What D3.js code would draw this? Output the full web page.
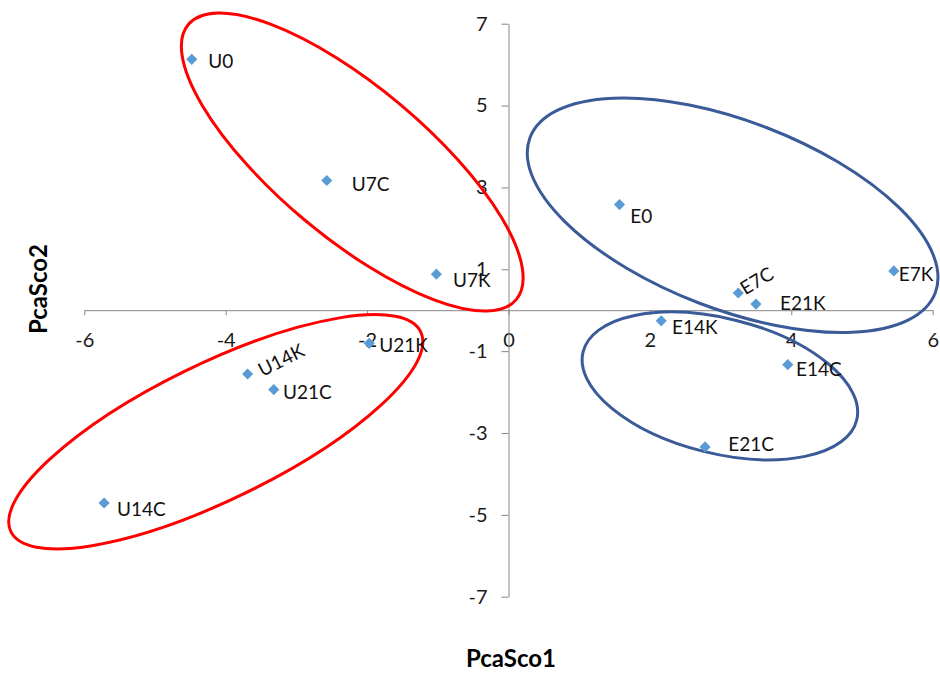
<!DOCTYPE html>
<html>
<head>
<meta charset="utf-8">
<script src="https://cdn.jsdelivr.net/npm/d3@7/dist/d3.min.js"></script>
<style>
  html, body { margin: 0; padding: 0; background: #fff; }
  svg { display: block; font-family: Lato, "Open Sans", sans-serif; }
</style>
</head>
<body>
<svg id="chart" width="940" height="674"></svg>
<script>
// Sample names and their scores on the first two principal components
const sampleNames = ["U0", "U7C", "U7K", "U14K", "U14C", "U21K", "U21C",
                     "E0", "E7C", "E7K", "E14K", "E14C", "E21K", "E21C"];
const pcaSco1 = [-4.48, -2.57, -1.02, -3.69, -5.72, -1.97, -3.32,
                  1.57,  3.25,  5.45,  2.16,  3.95,  3.50,  2.78];
const pcaSco2 = [ 6.13,  3.17,  0.88, -1.56, -4.71, -0.81, -1.94,
                  2.58,  0.42,  0.96, -0.26, -1.33,  0.15, -3.34];

// Axis tick values
const xTicks = [-6, -4, -2, 0, 2, 4, 6];
const yTicks = [7, 5, 3, 1, -1, -3, -5, -7];

// Group outline centres (in score units)
const groupCentreX = [-2.21, -4.14, 3.17, 2.99];
const groupCentreY = [ 3.62, -2.97, 2.32, -1.85];

// ---- layout & styling ----
const svg = d3.select("#chart");
const x = d3.scaleLinear().domain([-6, 6]).range([84.3, 932.7]);
const y = d3.scaleLinear().domain([-7, 7]).range([596.7, 23.7]);

// label placement relative to each marker: [dx, dy, rotation]
const labelPlacement = [
  [16.6, 8.4, 0], [25, 10.4, 0], [16.7, 12.7, 0], [15, 3, -27], [13, 13.3, 0],
  [10, 9, 0], [9.3, 9.7, 0],
  [10.7, 18.3, 0], [7, 2.5, -31], [5, 10, 0], [10.7, 12.7, 0], [8.3, 11.7, 0],
  [24, 6, 0], [23.3, 4, 0]
];

// outline shapes: [rx, ry, angle, colour]
const groupShape = [
  [214, 75, 40, "#ff0000"],
  [228, 68, -26, "#ff0000"],
  [217, 94, 21, "#3a5a98"],
  [141, 67.5, 14, "#3a5a98"]
];

const axisColor = "#868686";

// x axis along y = 0
const gx = svg.append("g")
  .attr("transform", `translate(0,${y(0)})`)
  .call(d3.axisBottom(x).tickValues(xTicks).tickSize(5).tickSizeOuter(0).tickPadding(18)
        .tickFormat(d3.format("d")));
// y axis along x = 0
const gy = svg.append("g")
  .attr("transform", `translate(${x(0)},0)`)
  .call(d3.axisLeft(y).tickValues(yTicks).tickSize(7).tickSizeOuter(0).tickPadding(14)
        .tickFormat(d3.format("d")));

[gx, gy].forEach(g => {
  g.select(".domain").attr("stroke", axisColor).attr("stroke-width", 1);
  g.selectAll(".tick line").attr("stroke", axisColor).attr("stroke-width", 1);
  g.selectAll(".tick text")
    .attr("fill", "#1a1a1a")
    .style("font-size", "20px")
    .style("font-family", "Lato, 'Open Sans', sans-serif")
    .text(d => d < 0 ? "-" + Math.abs(d) : String(d));
});

// group outlines
svg.append("g").selectAll("ellipse")
  .data(groupCentreX.map((cx, i) => ({ cx, cy: groupCentreY[i], shape: groupShape[i] })))
  .join("ellipse")
  .attr("transform", d => `translate(${x(d.cx)},${y(d.cy)}) rotate(${d.shape[2]})`)
  .attr("rx", d => d.shape[0])
  .attr("ry", d => d.shape[1])
  .attr("fill", "none")
  .attr("stroke", d => d.shape[3])
  .attr("stroke-width", 3);

// sample markers
const points = sampleNames.map((name, i) => ({ name, sx: pcaSco1[i], sy: pcaSco2[i], lp: labelPlacement[i] }));

svg.append("g").selectAll("path")
  .data(points)
  .join("path")
  .attr("d", d3.symbol(d3.symbolSquare, 62))
  .attr("transform", d => `translate(${x(d.sx)},${y(d.sy)}) rotate(45)`)
  .attr("fill", "#5b9bd5");

// sample labels
svg.append("g").selectAll("text")
  .data(points)
  .join("text")
  .attr("transform", d => `translate(${x(d.sx) + d.lp[0]},${y(d.sy) + d.lp[1]}) rotate(${d.lp[2]})`)
  .attr("fill", "#111")
  .style("font-size", "19px")
  .text(d => d.name);

// axis titles
svg.append("text")
  .attr("x", 511).attr("y", 667)
  .attr("text-anchor", "middle")
  .style("font-size", "24px").style("font-weight", "bold")
  .attr("fill", "#000")
  .text("PcaSco1");

svg.append("text")
  .attr("transform", "translate(47,289) rotate(-90)")
  .attr("text-anchor", "middle")
  .style("font-size", "24px").style("font-weight", "bold")
  .attr("fill", "#000")
  .text("PcaSco2");
</script>
</body>
</html>
